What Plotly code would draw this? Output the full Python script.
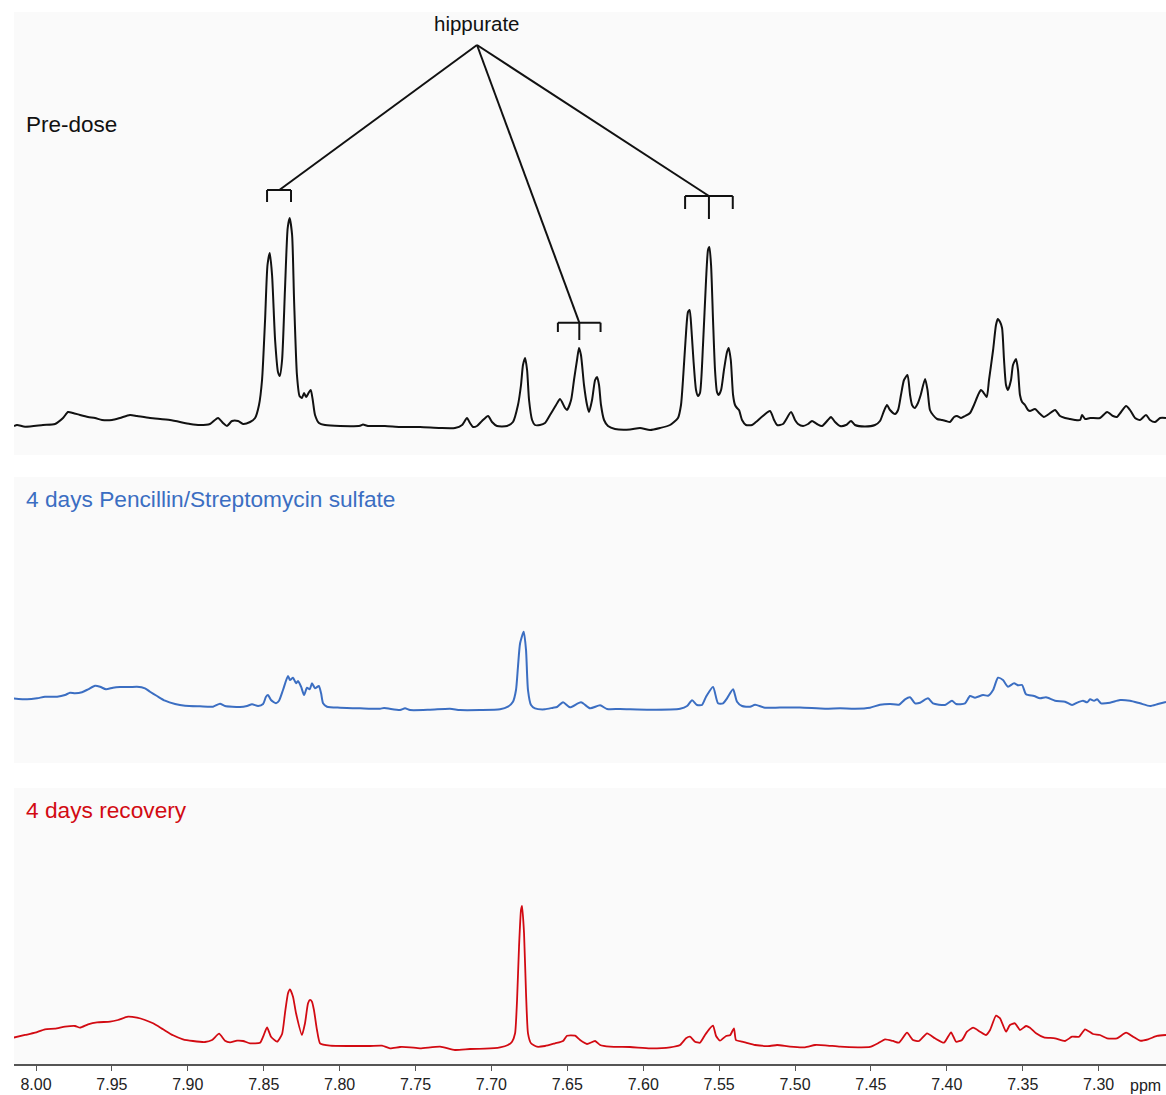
import plotly.graph_objects as go

# ---------------- data (chemical shift in ppm, intensity in arbitrary units) ----------------
predose_ppm = [8.0145, 8.0125, 8.0072, 7.9954, 7.9875, 7.9822, 7.9789, 7.9756, 7.9710, 7.9657,
               7.9611, 7.9565, 7.9499, 7.9447, 7.9381, 7.9335, 7.9249, 7.9117, 7.8985, 7.8920,
               7.8854, 7.8801, 7.8768, 7.8742, 7.8709, 7.8669, 7.8636, 7.8590, 7.8557, 7.8531,
               7.8511, 7.8491, 7.8475, 7.8460, 7.8445, 7.8425, 7.8406, 7.8394, 7.8379, 7.8360,
               7.8342, 7.8329, 7.8313, 7.8300, 7.8281, 7.8264, 7.8248, 7.8234, 7.8221, 7.8201,
               7.8190, 7.8177, 7.8162, 7.8136, 7.8096, 7.7997, 7.7865, 7.7846, 7.7813, 7.7701,
               7.7602, 7.7470, 7.7338, 7.7240, 7.7193, 7.7161, 7.7141, 7.7121, 7.7095, 7.7062,
               7.7022, 7.6996, 7.6963, 7.6897, 7.6858, 7.6825, 7.6805, 7.6792, 7.6778, 7.6765,
               7.6752, 7.6732, 7.6713, 7.6680, 7.6647, 7.6614, 7.6574, 7.6548, 7.6515, 7.6502,
               7.6475, 7.6456, 7.6436, 7.6423, 7.6410, 7.6390, 7.6370, 7.6357, 7.6337, 7.6317,
               7.6304, 7.6291, 7.6278, 7.6258, 7.6232, 7.6186, 7.6087, 7.6021, 7.5955, 7.5889,
               7.5823, 7.5771, 7.5751, 7.5738, 7.5721, 7.5705, 7.5694, 7.5682, 7.5669, 7.5652,
               7.5639, 7.5626, 7.5606, 7.5586, 7.5573, 7.5564, 7.5553, 7.5540, 7.5527, 7.5514,
               7.5503, 7.5487, 7.5468, 7.5448, 7.5437, 7.5423, 7.5408, 7.5395, 7.5382, 7.5369,
               7.5349, 7.5323, 7.5283, 7.5257, 7.5165, 7.5138, 7.5118, 7.5079, 7.5026, 7.5000,
               7.4980, 7.4947, 7.4914, 7.4888, 7.4855, 7.4822, 7.4783, 7.4763, 7.4736, 7.4703,
               7.4664, 7.4631, 7.4605, 7.4539, 7.4473, 7.4440, 7.4414, 7.4394, 7.4374, 7.4341,
               7.4321, 7.4302, 7.4282, 7.4259, 7.4242, 7.4229, 7.4211, 7.4190, 7.4172, 7.4143,
               7.4127, 7.4111, 7.4091, 7.4064, 7.4031, 7.4005, 7.3979, 7.3952, 7.3933, 7.3906,
               7.3880, 7.3847, 7.3821, 7.3794, 7.3775, 7.3761, 7.3737, 7.3722, 7.3695, 7.3676,
               7.3664, 7.3649, 7.3636, 7.3623, 7.3610, 7.3597, 7.3577, 7.3564, 7.3544, 7.3531,
               7.3518, 7.3504, 7.3485, 7.3465, 7.3452, 7.3419, 7.3392, 7.3360, 7.3327, 7.3287,
               7.3254, 7.3221, 7.3188, 7.3155, 7.3122, 7.3109, 7.3089, 7.3056, 7.2991, 7.2944,
               7.2905, 7.2879, 7.2852, 7.2819, 7.2793, 7.2760, 7.2727, 7.2688, 7.2661, 7.2628,
               7.2595, 7.2556]
predose_int = [4, 5, 3.3, 5, 6, 12, 18, 17, 15, 13,
               12, 10, 10, 12, 15, 14, 12, 10, 6, 5,
               6, 12, 7, 4, 9, 9, 6, 8, 12, 25,
               50, 110, 165, 177, 155, 90, 58, 54, 70, 140,
               202, 212, 195, 130, 55, 34, 32, 37, 33, 38,
               40, 30, 15, 7, 5, 4, 4.3, 5.5, 4, 4,
               3, 3, 2, 2, 5, 12, 7, 3, 4, 9,
               14, 8, 4, 4, 8, 25, 45, 65, 72, 60,
               30, 10, 5, 5, 7, 15, 25, 31, 22, 20,
               30, 50, 70, 82, 75, 45, 25, 18, 30, 50,
               53, 45, 25, 10, 4, 1, 0.5, 2, 0, 2,
               5, 12, 25, 50, 90, 118, 120, 100, 70, 40,
               34, 37, 85, 150, 180, 183, 165, 110, 60, 38,
               35, 40, 60, 78, 82, 70, 35, 25, 22, 20,
               10, 5, 5, 8, 19, 10, 5, 6, 18, 10,
               6, 4, 6, 9, 6, 4, 10, 13, 8, 4,
               5, 9, 5, 3.5, 5, 9, 19, 25, 20, 16,
               20, 35, 50, 55, 35, 25, 22, 27, 35, 51,
               40, 20, 15, 11, 10, 9, 8, 13, 14, 12,
               14, 17, 25, 35, 40, 38, 33, 50, 80, 105,
               111, 108, 102, 70, 45, 40, 50, 65, 71, 60,
               35, 28, 25, 20, 19, 21, 17, 13, 16, 20,
               14, 12, 11, 10, 10, 15, 11, 12, 12, 18,
               14, 13, 18, 24, 20, 12, 10, 15, 10, 8,
               12, 12]

treated_ppm = [8.0151, 8.0059, 7.9993, 7.9941, 7.9861, 7.9809, 7.9776, 7.9743, 7.9697, 7.9657,
               7.9611, 7.9578, 7.9539, 7.9493, 7.9447, 7.9381, 7.9335, 7.9282, 7.9249, 7.9203,
               7.9150, 7.9084, 7.9018, 7.8920, 7.8834, 7.8788, 7.8755, 7.8656, 7.8610, 7.8577,
               7.8537, 7.8504, 7.8485, 7.8472, 7.8452, 7.8419, 7.8399, 7.8373, 7.8340, 7.8327,
               7.8307, 7.8287, 7.8274, 7.8254, 7.8234, 7.8215, 7.8197, 7.8182, 7.8162, 7.8137,
               7.8122, 7.8109, 7.8083, 7.7997, 7.7865, 7.7734, 7.7707, 7.7602, 7.7569, 7.7536,
               7.7404, 7.7273, 7.7207, 7.7075, 7.6943, 7.6891, 7.6858, 7.6838, 7.6825, 7.6811,
               7.6787, 7.6772, 7.6759, 7.6739, 7.6713, 7.6647, 7.6594, 7.6568, 7.6528, 7.6482,
               7.6410, 7.6350, 7.6284, 7.6238, 7.6153, 7.5955, 7.5757, 7.5711, 7.5678, 7.5645,
               7.5613, 7.5586, 7.5540, 7.5507, 7.5474, 7.5448, 7.5408, 7.5382, 7.5349, 7.5296,
               7.5263, 7.5198, 7.5099, 7.4967, 7.4802, 7.4703, 7.4605, 7.4506, 7.4440, 7.4374,
               7.4315, 7.4275, 7.4242, 7.4209, 7.4176, 7.4124, 7.4091, 7.4012, 7.3966, 7.3939,
               7.3880, 7.3847, 7.3814, 7.3761, 7.3728, 7.3695, 7.3663, 7.3630, 7.3597, 7.3557,
               7.3531, 7.3504, 7.3478, 7.3425, 7.3386, 7.3346, 7.3287, 7.3221, 7.3175, 7.3136,
               7.3103, 7.3076, 7.3056, 7.3030, 7.3010, 7.2984, 7.2925, 7.2859, 7.2793, 7.2727,
               7.2661, 7.2609, 7.2556]
treated_int = [11.7, 10.7, 11.7, 13.3, 13.3, 15, 17.3, 16.7, 17.7, 20.7,
               24.3, 23.3, 20.7, 22.3, 23, 23, 23.3, 21.7, 18.3, 14,
               9.3, 6, 4.3, 3.7, 3.3, 6.3, 4, 3, 4, 5.7,
               4, 6, 13.3, 15, 10, 6.7, 9.3, 20, 34, 30,
               32.3, 26.7, 29, 23.3, 15, 22.3, 20.7, 26.7, 21.7, 24,
               16.7, 6.7, 3.3, 2.3, 1.7, 1.3, 2, 0, 1.7, 0,
               0.3, 1.3, 0, 0, 0.7, 3.3, 8.3, 20, 43.3, 66.7,
               78.3, 60, 20, 5, 1.7, 0.7, 2.3, 3, 7.7, 2.7,
               7.7, 1.7, 4.7, 1, 1, 0.3, 1.3, 4, 9.7, 5,
               5, 13.3, 23, 6.7, 6.7, 11.7, 20.7, 8.3, 4, 3.3,
               5.3, 2.3, 2.5, 2.5, 1.3, 1.7, 1.3, 2.3, 5.3, 6,
               5.3, 10.7, 12.7, 6.7, 7.3, 11.7, 6.7, 5, 9.3, 6,
               6.7, 14, 12.3, 15, 14.3, 20, 32.3, 30, 23.3, 26.7,
               24.7, 25, 15.7, 14, 11.7, 12.7, 9.3, 8.3, 5, 7.7,
               9.3, 7.7, 10.7, 9.3, 10.7, 6.7, 7.3, 10, 9.3, 6.7,
               4, 6, 8]

recovery_ppm = [8.0151, 8.0072, 8.0006, 7.9941, 7.9875, 7.9809, 7.9743, 7.9710, 7.9657, 7.9598,
                7.9512, 7.9460, 7.9394, 7.9335, 7.9282, 7.9229, 7.9163, 7.9097, 7.9032, 7.8966,
                7.8887, 7.8840, 7.8794, 7.8755, 7.8722, 7.8676, 7.8636, 7.8590, 7.8524, 7.8504,
                7.8478, 7.8452, 7.8412, 7.8379, 7.8360, 7.8340, 7.8327, 7.8307, 7.8287, 7.8248,
                7.8228, 7.8208, 7.8195, 7.8182, 7.8169, 7.8149, 7.8129, 7.8063, 7.7931, 7.7800,
                7.7721, 7.7668, 7.7602, 7.7536, 7.7470, 7.7338, 7.7240, 7.7141, 7.7042, 7.6943,
                7.6891, 7.6864, 7.6844, 7.6831, 7.6818, 7.6805, 7.6798, 7.6785, 7.6772, 7.6759,
                7.6739, 7.6700, 7.6647, 7.6581, 7.6528, 7.6502, 7.6449, 7.6416, 7.6370, 7.6317,
                7.6284, 7.6219, 7.6087, 7.5955, 7.5823, 7.5757, 7.5718, 7.5692, 7.5659, 7.5626,
                7.5593, 7.5566, 7.5540, 7.5520, 7.5494, 7.5454, 7.5428, 7.5402, 7.5389, 7.5349,
                7.5323, 7.5263, 7.5165, 7.5118, 7.5033, 7.4934, 7.4868, 7.4802, 7.4703, 7.4585,
                7.4506, 7.4453, 7.4407, 7.4354, 7.4315, 7.4262, 7.4223, 7.4183, 7.4130, 7.4078,
                7.4018, 7.3972, 7.3939, 7.3900, 7.3867, 7.3827, 7.3781, 7.3742, 7.3715, 7.3676,
                7.3649, 7.3610, 7.3584, 7.3551, 7.3518, 7.3478, 7.3452, 7.3412, 7.3360, 7.3287,
                7.3221, 7.3175, 7.3129, 7.3089, 7.3037, 7.2991, 7.2944, 7.2879, 7.2819, 7.2773,
                7.2727, 7.2674, 7.2615, 7.2556]
recovery_int = [12.3, 15, 17.3, 20.7, 21.3, 23.3, 24, 22.3, 25.7, 27.7,
                28.3, 30, 33.3, 32.3, 30, 26.7, 20.7, 14.7, 10.7, 9,
                8, 10, 16.3, 9.3, 7.7, 9.3, 9, 6.7, 7.3, 13.3,
                22.7, 13.3, 8.3, 16, 36.7, 56.7, 60.7, 53.3, 36.7, 15,
                26.7, 46.7, 50, 48.3, 40, 20, 6.7, 4.3, 4, 4,
                4.3, 1.7, 3, 2.7, 1.7, 3.3, 0, 1, 1.3, 2.7,
                5, 8.3, 16.7, 50, 103.3, 140, 144, 116.7, 56.7, 16.7,
                6.7, 3.3, 4, 6.7, 9, 14.3, 14.3, 10, 6, 9,
                5, 3.3, 3, 1.7, 2.7, 5, 11.7, 13.3, 8.3, 7.3,
                15, 20.7, 24.3, 14, 9.3, 14, 14.7, 21.7, 10, 8.3,
                7.3, 5, 4, 5, 3.3, 2.7, 5, 4.7, 3.3, 2.7,
                3, 6.7, 10.7, 9, 7.3, 17.3, 10, 9, 16.7, 11.7,
                7.3, 17.7, 8.3, 10, 18.3, 22.3, 18.3, 15, 20, 34.3,
                31.7, 18.3, 25, 26.7, 20, 24, 22.3, 16.7, 12.7, 11.7,
                9, 13.3, 13.3, 20.7, 16, 15, 11.7, 11.7, 17.3, 13.3,
                9.3, 10.7, 14, 15]

tick_vals = [8.00, 7.95, 7.90, 7.85, 7.80, 7.75, 7.70, 7.65, 7.60, 7.55, 7.50, 7.45, 7.40, 7.35, 7.30]
tick_text = ["8.00", "7.95", "7.90", "7.85", "7.80", "7.75", "7.70", "7.65", "7.60", "7.55",
             "7.50", "7.45", "7.40", "7.35", "7.30"]

# hippurate multiplets (ppm range of each bracket, centre where the pointer line lands)
hip_left = [7.8478, 7.8320]
hip_left_link = 7.8397
hip_mid = [7.6562, 7.6281]
hip_mid_centre = 7.6421
hip_right = [7.5724, 7.5410]
hip_right_centre = 7.5567
hip_apex = 7.7095

labels = ["Pre-dose", "4 days Pencillin/Streptomycin sulfate", "4 days recovery"]

# ---------------- styles ----------------
BLACK = "#111111"
BLUE = "#3b6ec2"
RED = "#d20a12"
FONT = "Liberation Sans, Arial, Helvetica, sans-serif"
BG = "#fafafa"

fig = go.Figure()
fig.add_trace(go.Scatter(x=predose_ppm, y=predose_int, mode="lines",
                         line=dict(color=BLACK, width=2, shape="spline", smoothing=0.6),
                         xaxis="x", yaxis="y", name=labels[0]))
fig.add_trace(go.Scatter(x=treated_ppm, y=treated_int, mode="lines",
                         line=dict(color=BLUE, width=2, shape="spline", smoothing=0.6),
                         xaxis="x", yaxis="y2", name=labels[1]))
fig.add_trace(go.Scatter(x=recovery_ppm, y=recovery_int, mode="lines",
                         line=dict(color=RED, width=1.8, shape="spline", smoothing=0.5),
                         xaxis="x", yaxis="y3", name=labels[2]))

# bracket annotations for hippurate (panel 1 coordinates)
shapes = []
lw = dict(color=BLACK, width=2)
def seg(x0, y0, x1, y1):
    shapes.append(dict(type="line", xref="x", yref="y", x0=x0, y0=y0, x1=x1, y1=y1, line=lw))

apex_y = 385
# left doublet bracket
seg(hip_left[0], 240, hip_left[1], 240)
seg(hip_left[0], 240, hip_left[0], 228)
seg(hip_left[1], 240, hip_left[1], 228)
seg(hip_apex, apex_y, hip_left_link, 240)
# middle triplet bracket
seg(hip_mid[0], 107.3, hip_mid[1], 107.3)
seg(hip_mid[0], 107.3, hip_mid[0], 98)
seg(hip_mid[1], 107.3, hip_mid[1], 98)
seg(hip_mid_centre, 107.3, hip_mid_centre, 90)
seg(hip_apex, apex_y, hip_mid_centre, 107.3)
# right triplet bracket
seg(hip_right[0], 234, hip_right[1], 234)
seg(hip_right[0], 234, hip_right[0], 221)
seg(hip_right[1], 234, hip_right[1], 221)
seg(hip_right_centre, 234, hip_right_centre, 211)
seg(hip_apex, apex_y, hip_right_centre, 234)

annotations = [
    dict(text="hippurate", x=hip_apex, y=407, xref="x", yref="y", showarrow=False,
         xanchor="center", yanchor="middle", font=dict(family=FONT, size=20.5, color=BLACK)),
    dict(text=labels[0], x=0.0085, y=306, xref="paper", yref="y", showarrow=False,
         xanchor="left", yanchor="middle", font=dict(family=FONT, size=22.5, color=BLACK)),
    dict(text=labels[1], x=0.0085, y=210.5, xref="paper", yref="y2", showarrow=False,
         xanchor="left", yanchor="middle", font=dict(family=FONT, size=22.7, color=BLUE)),
    dict(text=labels[2], x=0.0085, y=239.5, xref="paper", yref="y3", showarrow=False,
         xanchor="left", yanchor="middle", font=dict(family=FONT, size=22.7, color=RED)),
    dict(text="ppm", x=7.2691, y=0, xref="x", yref="paper", showarrow=False,
         xanchor="center", yanchor="top", yshift=-11, font=dict(family=FONT, size=16, color="#222222")),
]

yax_common = dict(visible=False, showgrid=False, zeroline=False, fixedrange=True, anchor="x")

fig.update_layout(
    width=1166, height=1095,
    margin=dict(l=14, r=0, t=12, b=31),
    paper_bgcolor="white", plot_bgcolor=BG,
    showlegend=False,
    shapes=shapes, annotations=annotations,
    xaxis=dict(range=[8.0145, 7.2556], anchor="y3", showgrid=False, zeroline=False,
               showline=True, linecolor="#555555", linewidth=1.5,
               ticks="outside", ticklen=5, tickwidth=1.2, tickcolor="#555555",
               tickvals=tick_vals, ticktext=tick_text,
               tickfont=dict(family=FONT, size=16, color="#222222"), fixedrange=True),
    yaxis=dict(domain=[0.5789, 1.0], range=[-25, 418], **yax_common),
    yaxis2=dict(domain=[0.2861, 0.5580], range=[-53, 233], **yax_common),
    yaxis3=dict(domain=[0.0, 0.2624], range=[-14, 262], **yax_common),
    font=dict(family=FONT),
)

# remove the default page margin so the 1166x1095 figure fills the window exactly
page_fix = ("document.body.style.margin='0';document.body.style.padding='0';"
            "document.documentElement.style.overflow='hidden';"
            "document.body.style.overflow='hidden';")

fig.write_html("out.html", post_script=page_fix, config={"displayModeBar": False})
